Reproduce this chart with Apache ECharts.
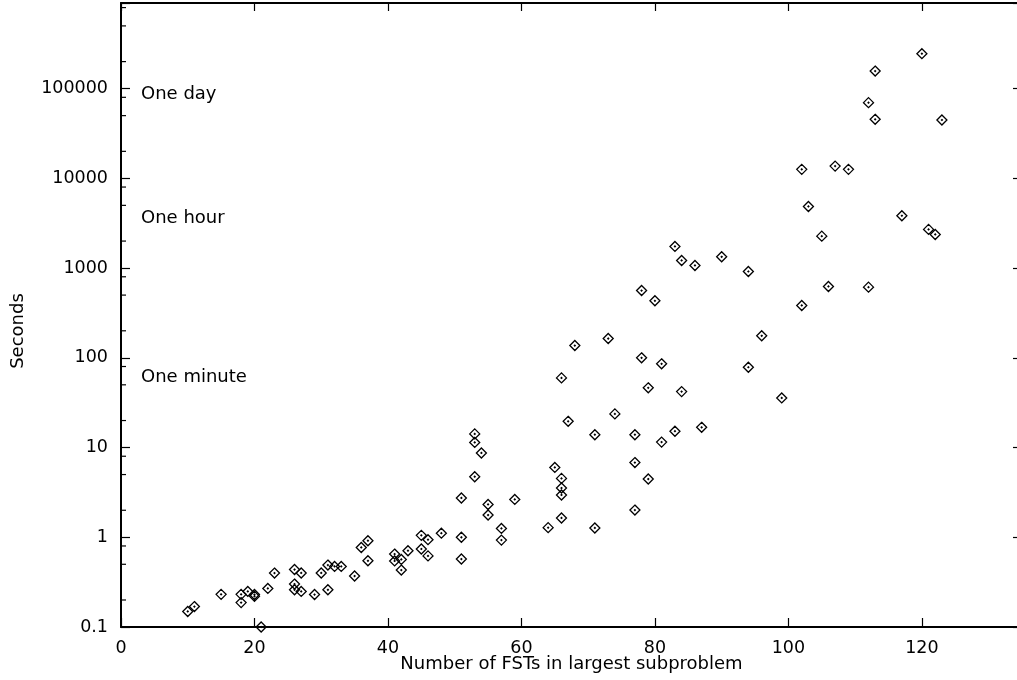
<!DOCTYPE html>
<html>
<head>
<meta charset="utf-8">
<script src="https://cdn.jsdelivr.net/npm/echarts@6/dist/echarts.min.js"></script>
<style>html,body{margin:0;padding:0;background:#fff}#c{width:1017px;height:680px}</style>
</head>
<body>
<div id="c"></div>
<script>
// Number of FSTs in largest subproblem (x) and run time in seconds (y)
const fstCounts = [
  10, 11, 15, 18, 18, 19, 20, 20, 21, 22, 23,
  26, 26, 26, 27, 27, 29, 30, 31, 31, 32, 33, 35, 36, 37, 37,
  41, 41, 42, 42, 43, 45, 45, 46, 46, 48,
  51, 51, 51, 53, 53, 53, 54, 55, 55, 57, 57, 59,
  64, 65, 66, 66, 66, 66, 66, 67, 68,
  71, 71, 73, 74, 77, 77, 77, 78, 78, 79, 79, 80, 81, 81,
  83, 83, 84, 84, 86, 87, 90, 94, 94, 96, 99,
  102, 102, 103, 105, 106, 107, 109, 112, 112, 113, 113, 117, 120, 121, 122, 123
];
const seconds = [
  0.149, 0.169, 0.231, 0.231, 0.187, 0.249, 0.23, 0.22, 0.1, 0.269, 0.399,
  0.437, 0.301, 0.26, 0.40, 0.249, 0.23, 0.40, 0.26, 0.49, 0.473, 0.473, 0.37, 0.77, 0.915, 0.547,
  0.65, 0.545, 0.566, 0.431, 0.708, 1.05, 0.74, 0.94, 0.62, 1.11,
  2.74, 1.0, 0.572, 14.2, 11.4, 4.73, 8.7, 2.32, 1.77, 1.255, 0.93, 2.64,
  1.28, 6.0, 4.53, 3.54, 2.96, 1.64, 59.7, 19.6, 137,
  13.9, 1.27, 164, 23.7, 13.9, 6.8, 2.01, 562, 100, 46.3, 4.46, 432, 11.5, 85.7,
  15.2, 1742, 42, 1216, 1069, 16.8, 1337, 916, 78.5, 176, 35.7,
  12600, 383, 4860, 2270, 624, 13700, 12600, 69800, 613, 157000, 45500, 3830, 245000, 2700, 2370, 44700
];
// Reference annotations
const annotationText = ['One day', 'One hour', 'One minute'];
const annotationSeconds = [86400, 3600, 60];
const annotationX = [3, 3, 3];
// Tick labels
const xTickValues = [0, 20, 40, 60, 80, 100, 120];
const yTickLabels = ['0.1', '1', '10', '100', '1000', '10000', '100000'];
const yMinorTicks = [0.2, 0.5, 0.8, 2, 5, 8, 20, 50, 80, 200, 500, 800, 2000, 5000, 8000,
  20000, 50000, 80000, 200000, 500000, 800000];

const FONT = 'DejaVu Sans';
const points = fstCounts.map((x, i) => [x, seconds[i]]);
const annotations = annotationText.map((t, i) => [annotationX[i], annotationSeconds[i], t]);
const diamond = 'path://M5,0L10,5L5,10L0,5Z M5,4.55L5.45,5L5,5.45L4.55,5Z';

const axisLineStyle = {show: true, onZero: false, lineStyle: {color: '#000', width: 2}};

const chart = echarts.init(document.getElementById('c'), null, {renderer: 'canvas'});
chart.setOption({
  animation: false,
  backgroundColor: '#fff',
  grid: {left: 121, right: -5, top: 3, bottom: 53, containLabel: false, outerBoundsMode: 'none'},
  xAxis: [
    {
      type: 'value', min: 0, max: 135, interval: 20, position: 'bottom',
      axisLine: axisLineStyle,
      axisTick: {show: true, inside: true, length: 9, lineStyle: {color: '#000', width: 1.2}},
      axisLabel: {
        color: '#000', fontFamily: FONT, fontSize: 17.5, margin: 12,
        formatter: v => xTickValues.includes(v) ? String(v) : ''
      },
      splitLine: {show: false},
      name: 'Number of FSTs in largest subproblem', nameLocation: 'middle', nameGap: 28,
      nameMoveOverlap: false,
      nameTextStyle: {color: '#000', fontFamily: FONT, fontSize: 18}
    },
    {
      type: 'value', min: 0, max: 135, interval: 20, position: 'top',
      axisLine: axisLineStyle,
      axisTick: {show: true, inside: true, length: 8, lineStyle: {color: '#000', width: 1.2}},
      axisLabel: {show: false},
      splitLine: {show: false}
    }
  ],
  yAxis: [
    {
      type: 'log', logBase: 10, min: 0.1, max: 900000, position: 'left',
      axisLine: axisLineStyle,
      axisTick: {show: true, inside: true, length: 9, lineStyle: {color: '#000', width: 1.2}},
      axisLabel: {
        color: '#000', fontFamily: FONT, fontSize: 17.5, margin: 13,
        formatter: v => {
          const lg = Math.log10(v), r = Math.round(lg);
          if (Math.abs(lg - r) > 1e-6) return '';
          return yTickLabels[r + 1] || '';
        }
      },
      splitLine: {show: false}
    },
    {
      type: 'log', logBase: 10, min: 0.1, max: 900000, position: 'right',
      axisLine: axisLineStyle,
      axisTick: {show: true, inside: true, length: 9, lineStyle: {color: '#000', width: 1.2}},
      axisLabel: {show: false},
      splitLine: {show: false}
    }
  ],
  series: [
    {
      type: 'scatter', xAxisIndex: 0, yAxisIndex: 0,
      data: points,
      symbol: diamond, symbolSize: 10,
      itemStyle: {color: 'rgba(0,0,0,0)', borderColor: '#000', borderWidth: 1.3, opacity: 1},
      emphasis: {disabled: true}
    },
    {
      type: 'scatter', xAxisIndex: 0, yAxisIndex: 0,
      data: annotations, symbolSize: 0, silent: true,
      itemStyle: {opacity: 1},
      label: {
        show: true, position: 'right', distance: 0,
        formatter: p => p.data[2],
        color: '#000', fontFamily: FONT, fontSize: 18
      }
    },
    {
      type: 'custom', xAxisIndex: 0, yAxisIndex: 0, silent: true, clip: false,
      data: yMinorTicks.map(v => [0, v]),
      renderItem: (params, api) => {
        const p = api.coord([0, api.value(1)]);
        return {
          type: 'line',
          shape: {x1: p[0], y1: p[1], x2: p[0] + 5, y2: p[1]},
          style: {stroke: '#000', lineWidth: 1.2}
        };
      }
    }
  ],
  graphic: [
    {
      type: 'text', x: 18, y: 331, rotation: Math.PI / 2,
      style: {text: 'Seconds', fill: '#000', font: '18px "DejaVu Sans"', align: 'center', verticalAlign: 'middle'}
    }
  ]
});
</script>
</body>
</html>
